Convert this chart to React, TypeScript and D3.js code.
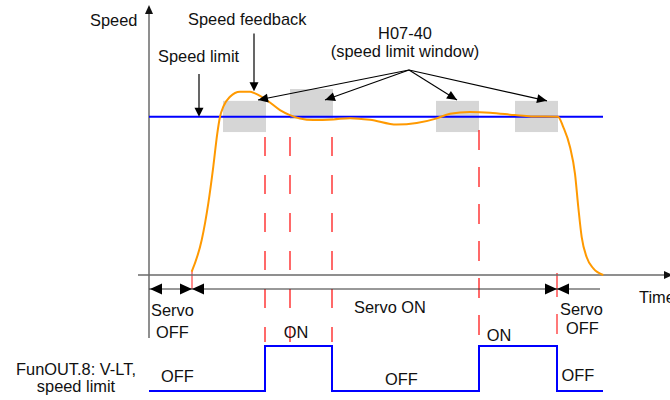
import * as d3 from "d3";

const W = 670;
const H = 400;
const FONT = "'Liberation Sans', Arial, sans-serif";
const FS = 16.4;

// time axis (arbitrary units) and speed (% of limit)
const T_MAX = 52;
const SPEED_LIMIT = 100;

const feedbackT = [
  4.27, 5.27, 5.93, 6.43, 6.83, 7.1, 7.43, 8.1, 9.1, 10.1, 10.6, 11.77, 13.1,
  14.1, 15.1, 16.43, 18.43, 20.1, 22.1, 24.77, 26.77, 28.7, 30.1, 32.1, 34.1,
  36.6, 38.2, 40.9, 41.43, 42.1, 42.6, 42.93, 43.27, 43.77, 44.43, 45.43,
];
const feedbackSpeed = [
  2.1, 22.1, 45.3, 68.5, 89.5, 100, 106.3, 112.6, 115.8, 115.8, 114.7, 110.5,
  104.2, 101, 98.9, 97.9, 98.3, 99.1, 98.1, 95.0, 96.0, 98.8, 101.9, 102.9,
  102.5, 101, 100.2, 100, 93.4, 80.8, 63.9, 42.8, 23.9, 11.2, 4.2, 0,
];

// speed limit windows (gray boxes)
const windowStart = [7.4, 14.1, 28.7, 36.6];
const windowEnd = [11.7, 18.4, 33.0, 40.9];
const windowLow = [90.3, 98.5, 90.3, 90.3];
const windowHigh = [110, 117.5, 110, 110];

// servo state changes
const SERVO_ON_T = 4.3;
const SERVO_OFF_T = 40.8;
const SERVO_LINE_END_T = 45.1;

// FunOUT.8 digital output (0 = OFF, 1 = ON)
const outT = [0, 11.6, 18.3, 33.0, 40.8, 45.4];
const outLevel = [0, 1, 0, 1, 0, 0];

// dashed guides at output edges / window edges
const guideT = [11.6, 14.1, 18.3, 33.0];

// annotation arrows (t, speed)
const windowArrowFrom = [26, 129.5];
const windowArrowTips = [
  [10.9, 110.5],
  [17.6, 110.5],
  [30.8, 110.5],
  [39.8, 110],
];
const limitArrow = { t: 5.0, from: 127, to: 100 };
const feedbackArrow = { t: 10.5, from: 152.5, to: 116 };

function tri(tipX: number, tipY: number, dir: "l" | "r" | "u" | "d", len: number, half: number) {
  if (dir === "l") return `M${tipX},${tipY}L${tipX + len},${tipY - half}L${tipX + len},${tipY + half}Z`;
  if (dir === "r") return `M${tipX},${tipY}L${tipX - len},${tipY - half}L${tipX - len},${tipY + half}Z`;
  if (dir === "u") return `M${tipX},${tipY}L${tipX - half},${tipY + len}L${tipX + half},${tipY + len}Z`;
  return `M${tipX},${tipY}L${tipX - half},${tipY - len}L${tipX + half},${tipY - len}Z`;
}

// arrowhead at end of segment (x1,y1)->(x2,y2)
function headAt(x1: number, y1: number, x2: number, y2: number, len = 10, half = 4.5) {
  const a = Math.atan2(y2 - y1, x2 - x1);
  const bx = x2 - len * Math.cos(a);
  const by = y2 - len * Math.sin(a);
  const px = -Math.sin(a) * half;
  const py = Math.cos(a) * half;
  return `M${x2},${y2}L${bx + px},${by + py}L${bx - px},${by - py}Z`;
}

export default function App() {
  const x = d3.scaleLinear().domain([0, T_MAX]).range([149, 669]);
  const y = d3.scaleLinear().domain([0, SPEED_LIMIT]).range([275, 116.7]);
  const yOut = d3.scaleLinear().domain([0, 1]).range([391, 346]);

  const feedbackLine = d3
    .line<number>()
    .x((_, i) => x(feedbackT[i]))
    .y((d) => y(d))
    .curve(d3.curveMonotoneX)(feedbackSpeed);

  const outLine = d3
    .line<number>()
    .x((_, i) => x(outT[i]))
    .y((d) => yOut(d))
    .curve(d3.curveStepAfter)(outLevel);

  const axisY = y(0);
  const arrowY = 289;
  const xOn = x(SERVO_ON_T);
  const xOff = x(SERVO_OFF_T);
  const x0 = x(0);

  const [wfT, wfS] = windowArrowFrom;

  const txt = (
    s: string,
    tx: number,
    ty: number,
    anchor: "start" | "middle" | "end" = "start",
  ) => (
    <text
      key={s + tx + ty}
      x={tx}
      y={ty}
      textAnchor={anchor}
      fontFamily={FONT}
      fontSize={FS}
      fill="#111"
    >
      {s}
    </text>
  );

  return (
    <svg
      width={W}
      height={H}
      style={{ position: "absolute", left: 0, top: 0, background: "#fff" }}
    >
      {/* speed limit windows */}
      {windowStart.map((t0, i) => (
        <rect
          key={i}
          x={x(t0)}
          y={y(windowHigh[i])}
          width={x(windowEnd[i]) - x(t0)}
          height={y(windowLow[i]) - y(windowHigh[i])}
          fill="#d6d6d6"
        />
      ))}

      {/* red dashed guides */}
      {guideT.map((t, i) => (
        <line
          key={t}
          x1={x(t)}
          x2={x(t)}
          y1={i < 3 ? 137 : 130}
          y2={i < 3 ? 342 : 335}
          stroke="#ff1a1a"
          strokeWidth={1.3}
          strokeDasharray={i < 3 ? "19 19" : "20 17"}
        />
      ))}
      <line
        x1={xOff}
        x2={xOff}
        y1={273}
        y2={334}
        stroke="#ff3333"
        strokeWidth={1.3}
        strokeDasharray="24 17 20"
      />
      <line x1={xOn} x2={xOn} y1={271} y2={arrowY} stroke="#ff5050" strokeWidth={1.3} />

      {/* axes */}
      <line x1={x0} x2={x0} y1={10} y2={338} stroke="#6a6a6a" strokeWidth={1.5} />
      <path d={tri(x0, 5, "u", 9, 4)} fill="#111" />
      <line x1={138} x2={668} y1={axisY} y2={axisY} stroke="#6a6a6a" strokeWidth={1.5} />
      <path d={tri(673, axisY, "r", 9, 4)} fill="#111" />

      {/* speed limit */}
      <line
        x1={x0}
        x2={x(45.4)}
        y1={y(SPEED_LIMIT)}
        y2={y(SPEED_LIMIT)}
        stroke="#0000ff"
        strokeWidth={2}
      />

      {/* speed feedback */}
      <path d={feedbackLine ?? ""} fill="none" stroke="#ff9900" strokeWidth={2} />

      {/* servo state arrows */}
      <line x1={x0} x2={x(SERVO_LINE_END_T)} y1={arrowY} y2={arrowY} stroke="#333" strokeWidth={1} />
      <path d={tri(x0 + 1, arrowY, "l", 12, 5.5)} fill="#000" />
      <path d={tri(xOn, arrowY, "r", 12, 5.5)} fill="#000" />
      <path d={tri(xOn, arrowY, "l", 12, 5.5)} fill="#000" />
      <path d={tri(xOff, arrowY, "r", 12, 5.5)} fill="#000" />
      <path d={tri(xOff, arrowY, "l", 12, 5.5)} fill="#000" />

      {/* output signal */}
      <path d={outLine ?? ""} fill="none" stroke="#0000ff" strokeWidth={2} />

      {/* annotation arrows */}
      <line
        x1={x(limitArrow.t)}
        x2={x(limitArrow.t)}
        y1={y(limitArrow.from)}
        y2={y(limitArrow.to) - 4}
        stroke="#000"
        strokeWidth={1.2}
      />
      <path d={tri(x(limitArrow.t), y(limitArrow.to), "d", 9, 4.5)} fill="#000" />
      <line
        x1={x(feedbackArrow.t)}
        x2={x(feedbackArrow.t)}
        y1={y(feedbackArrow.from)}
        y2={y(feedbackArrow.to) - 4}
        stroke="#000"
        strokeWidth={1.2}
      />
      <path d={tri(x(feedbackArrow.t), y(feedbackArrow.to), "d", 9, 4.5)} fill="#000" />
      {windowArrowTips.map(([t, s], i) => (
        <g key={i}>
          <line
            x1={x(wfT)}
            y1={y(wfS)}
            x2={x(t)}
            y2={y(s)}
            stroke="#000"
            strokeWidth={1.1}
          />
          <path d={headAt(x(wfT), y(wfS), x(t), y(s), 10, 4.5)} fill="#000" />
        </g>
      ))}

      {/* labels */}
      {txt("Speed", 90, 26)}
      {txt("Speed feedback", 188, 25)}
      {txt("Speed limit", 158, 62)}
      {txt("H07-40", 405, 39, "middle")}
      {txt("(speed limit window)", 405, 57, "middle")}
      {txt("Servo", 151, 316)}
      {txt("OFF", 156, 338)}
      {txt("Servo ON", 354, 313)}
      {txt("ON", 296, 338, "middle")}
      {txt("ON", 499, 341, "middle")}
      {txt("Servo", 560, 315)}
      {txt("OFF", 566, 334)}
      {txt("Time", 639, 303)}
      {txt("OFF", 177.5, 382, "middle")}
      {txt("OFF", 401.5, 385, "middle")}
      {txt("OFF", 578, 381, "middle")}
      {txt("FunOUT.8: V-LT,", 76, 375, "middle")}
      {txt("speed limit", 76, 392, "middle")}
    </svg>
  );
}
